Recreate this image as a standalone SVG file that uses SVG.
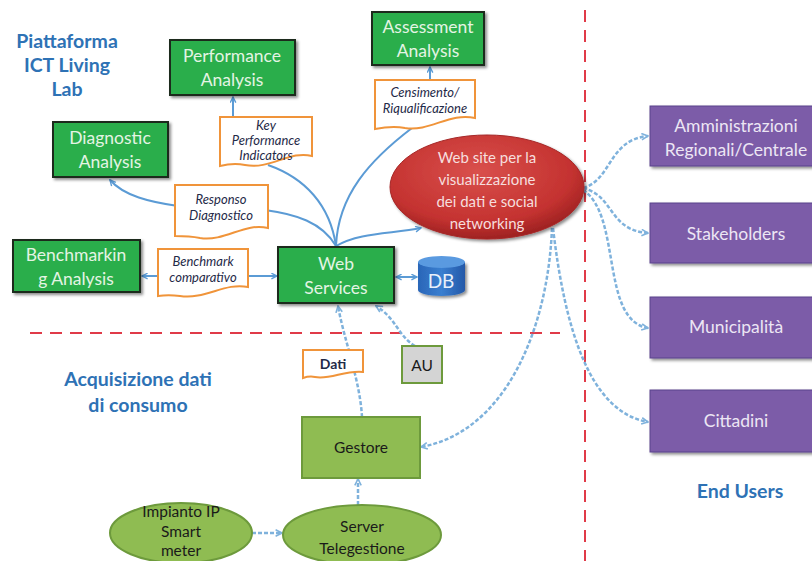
<svg xmlns="http://www.w3.org/2000/svg" width="812" height="561" viewBox="0 0 812 561">
<defs>
<style>
.t{font-family:Lato,"Liberation Sans",sans-serif;text-anchor:middle}
.title{font-family:Lato,"Liberation Sans",sans-serif;font-weight:bold;fill:#2e72b5;font-size:19.5px;text-anchor:middle}
.gbox{fill:#2bae4b;stroke:#1a2a1a;stroke-width:2}
.gtxt{fill:#e4f4e4;font-size:17.5px}
.lbl{fill:#fff;stroke:#f0943a;stroke-width:2}
.ltxt{fill:#1f2a48;font-size:13px;font-style:italic}
.pbox{fill:#7b5ca8;stroke:#5a428c;stroke-width:1}
.ptxt{fill:#ece6f4;font-size:17.5px}
.lg{fill:#8fbc52;stroke:#6d9a3c;stroke-width:2}
.dtxt{fill:#1a1a1a;font-size:15.5px}
.sol{fill:none;stroke:#5b9bd5;stroke-width:2}
.dsh{fill:none;stroke:#7fb2dc;stroke-width:2.5;stroke-dasharray:4 2}
.red{fill:none;stroke:#e03a48;stroke-width:2;stroke-dasharray:12 8}
</style>
<marker id="ah" viewBox="0 0 10 10" refX="9" refY="5" markerWidth="7" markerHeight="7" orient="auto-start-reverse" markerUnits="userSpaceOnUse">
<path d="M1 1 L9 5 L1 9" fill="none" stroke="#5b9bd5" stroke-width="2"/>
</marker>
<marker id="ahd" viewBox="0 0 10 10" refX="9" refY="5" markerWidth="8" markerHeight="8" orient="auto-start-reverse" markerUnits="userSpaceOnUse">
<path d="M1 1 L9 5 L1 9" fill="none" stroke="#7fb2dc" stroke-width="2"/>
</marker>
<filter id="sh" x="-10%" y="-10%" width="130%" height="140%">
<feDropShadow dx="2" dy="2" stdDeviation="1.5" flood-color="#000" flood-opacity="0.45"/>
</filter>
<radialGradient id="rg" cx="0.45" cy="0.35" r="0.65">
<stop offset="0" stop-color="#d9504c"/>
<stop offset="0.75" stop-color="#c43230"/>
<stop offset="1" stop-color="#9e2222"/>
</radialGradient>
<linearGradient id="dbg" x1="0" y1="0" x2="1" y2="0">
<stop offset="0" stop-color="#2a66b8"/>
<stop offset="0.5" stop-color="#3a7fd0"/>
<stop offset="1" stop-color="#2458a8"/>
</linearGradient>
</defs>
<rect width="812" height="561" fill="#fff"/>

<g id="dividers">
<path class="red" d="M30 333 H560"/>
<path class="red" d="M585 10 V561"/>
</g>

<g id="section-titles">
<text class="title" x="67" y="48">Piattaforma</text>
<text class="title" x="67" y="72">ICT Living</text>
<text class="title" x="67" y="96">Lab</text>
<text class="title" x="138" y="386">Acquisizione dati</text>
<text class="title" x="138" y="412">di consumo</text>
<text class="title" x="740" y="498">End Users</text>
</g>

<g id="connectors">
<path class="sol" d="M336 246 C330 205 305 178 268 165"/>
<path class="sol" marker-end="url(#ah)" d="M233 118 L233 97"/>
<path class="sol" d="M336 246 C338 195 370 160 412 128"/>
<path class="sol" marker-end="url(#ah)" d="M430 81 L430 67"/>
<path class="sol" d="M336 246 C322 222 295 214 265 210"/>
<path class="sol" marker-end="url(#ah)" d="M178 206 C150 202 124 196 110 180"/>
<path class="sol" marker-end="url(#ah)" d="M336 246 C360 232 392 234 421 228"/>
<path class="sol" marker-end="url(#ah)" d="M159 276 L142 276"/>
<path class="sol" marker-end="url(#ah)" d="M248 276 L277 276"/>
<path class="sol" marker-start="url(#ah)" marker-end="url(#ah)" d="M396 277 L417 277"/>
<path class="dsh" marker-end="url(#ahd)" d="M362 417 C360 380 344 340 338 306"/>
<path class="dsh" marker-end="url(#ahd)" d="M415 346 C398 336 396 318 376 306"/>
<path class="dsh" marker-end="url(#ahd)" d="M552 228 C548 330 505 432 421 447"/>
<path class="dsh" marker-end="url(#ahd)" d="M583 188 C612 180 608 140 648 136"/>
<path class="dsh" marker-end="url(#ahd)" d="M583 188 C615 196 608 230 648 233"/>
<path class="dsh" marker-end="url(#ahd)" d="M583 190 C622 215 600 320 648 328"/>
<path class="dsh" marker-end="url(#ahd)" d="M553 228 C565 330 590 412 648 422"/>
<path class="dsh" marker-end="url(#ahd)" d="M252 533 L282 533"/>
<path class="dsh" marker-end="url(#ahd)" d="M358 505 L358 479"/>
</g>

<g id="performance-analysis">
<rect class="gbox" filter="url(#sh)" x="170" y="40" width="125" height="55"/>
<text class="t gtxt" x="232" y="62">Performance</text>
<text class="t gtxt" x="232" y="86">Analysis</text>
</g>
<g id="diagnostic-analysis">
<rect class="gbox" filter="url(#sh)" x="53" y="122" width="115" height="55"/>
<text class="t gtxt" x="110" y="144">Diagnostic</text>
<text class="t gtxt" x="110" y="168">Analysis</text>
</g>
<g id="assessment-analysis">
<rect class="gbox" filter="url(#sh)" x="372" y="12" width="112" height="53"/>
<text class="t gtxt" x="428" y="33">Assessment</text>
<text class="t gtxt" x="428" y="57">Analysis</text>
</g>
<g id="benchmarking-analysis">
<rect class="gbox" filter="url(#sh)" x="13" y="240" width="127" height="52"/>
<text class="t gtxt" x="76" y="261">Benchmarkin</text>
<text class="t gtxt" x="76" y="285">g Analysis</text>
</g>
<g id="web-services">
<rect class="gbox" filter="url(#sh)" x="278" y="247" width="116" height="56"/>
<text class="t gtxt" x="336" y="270">Web</text>
<text class="t gtxt" x="336" y="294">Services</text>
</g>
<g id="db">
<path d="M418 262 V290 A23.5 6 0 0 0 465 290 V262 Z" fill="url(#dbg)" filter="url(#sh)"/>
<ellipse cx="441.5" cy="262" rx="23.5" ry="6" fill="#5a9ae0"/>
<text class="t" x="441" y="288" fill="#e8f0fa" font-size="19">DB</text>
</g>
<g id="web-site">
<ellipse cx="487" cy="187" rx="97" ry="52" fill="url(#rg)" stroke="#a52626" stroke-width="1" filter="url(#sh)"/>
<text class="t" fill="#f6dede" font-size="15" x="487" y="163">Web site per la</text>
<text class="t" fill="#f6dede" font-size="15" x="487" y="185">visualizzazione</text>
<text class="t" fill="#f6dede" font-size="15" x="487" y="207">dei dati e social</text>
<text class="t" fill="#f6dede" font-size="15" x="487" y="229">networking</text>
</g>

<g id="label-kpi">
<path class="lbl" d="M220 117 H312 V156 C290 150 270 170 245 165 C235 163 228 164 220 166 Z"/>
<text class="t ltxt" x="266" y="130">Key</text>
<text class="t ltxt" x="266" y="145">Performance</text>
<text class="t ltxt" x="266" y="160">Indicators</text>
</g>
<g id="label-censimento">
<path class="lbl" d="M375 80 H475 V118 C450 112 430 132 405 128 C395 126 385 127 375 129 Z"/>
<text class="t ltxt" x="425" y="97">Censimento/</text>
<text class="t ltxt" x="425" y="113">Riqualificazione</text>
</g>
<g id="label-responso">
<path class="lbl" d="M175 185 H268 V228 C245 222 225 242 200 238 C190 236 182 236 175 236 Z"/>
<text class="t ltxt" x="221" y="204">Responso</text>
<text class="t ltxt" x="221" y="220">Diagnostico</text>
</g>
<g id="label-benchmark">
<path class="lbl" d="M158 249 H248 V287 C225 282 205 300 180 296 C172 295 165 295 158 296 Z"/>
<text class="t ltxt" x="203" y="266">Benchmark</text>
<text class="t ltxt" x="203" y="282">comparativo</text>
</g>
<g id="label-dati">
<path class="lbl" d="M303 350 H363 V372 C345 370 330 380 315 377 C310 376 306 377 303 378 Z"/>
<text class="t" x="333" y="369" fill="#1f2a48" font-size="14" font-weight="bold">Dati</text>
</g>
<g id="au">
<rect x="402" y="346" width="40" height="37" fill="#d4d4d4" stroke="#6d9a3c" stroke-width="2"/>
<text class="t" x="422" y="371" fill="#1a1a1a" font-size="15.5">AU</text>
</g>
<g id="gestore">
<rect class="lg" x="302" y="417" width="118" height="61"/>
<text class="t dtxt" x="361" y="453">Gestore</text>
</g>
<g id="impianto">
<ellipse class="lg" cx="181" cy="533" rx="71" ry="30"/>
<text class="t dtxt" x="181" y="517">Impianto IP</text>
<text class="t dtxt" x="181" y="537">Smart</text>
<text class="t dtxt" x="181" y="556">meter</text>
</g>
<g id="server">
<ellipse class="lg" cx="362" cy="535" rx="79" ry="30"/>
<text class="t dtxt" x="362" y="532">Server</text>
<text class="t dtxt" x="362" y="554">Telegestione</text>
</g>

<g id="amministrazioni">
<rect class="pbox" filter="url(#sh)" x="650" y="106" width="170" height="60"/>
<text class="t ptxt" x="736" y="132">Amministrazioni</text>
<text class="t ptxt" x="736" y="156">Regionali/Centrale</text>
</g>
<g id="stakeholders">
<rect class="pbox" filter="url(#sh)" x="650" y="203" width="170" height="60"/>
<text class="t ptxt" x="736" y="240">Stakeholders</text>
</g>
<g id="municipalita">
<rect class="pbox" filter="url(#sh)" x="650" y="297" width="170" height="61"/>
<text class="t ptxt" x="736" y="333">Municipalità</text>
</g>
<g id="cittadini">
<rect class="pbox" filter="url(#sh)" x="650" y="390" width="170" height="62"/>
<text class="t ptxt" x="736" y="427">Cittadini</text>
</g>
</svg>
